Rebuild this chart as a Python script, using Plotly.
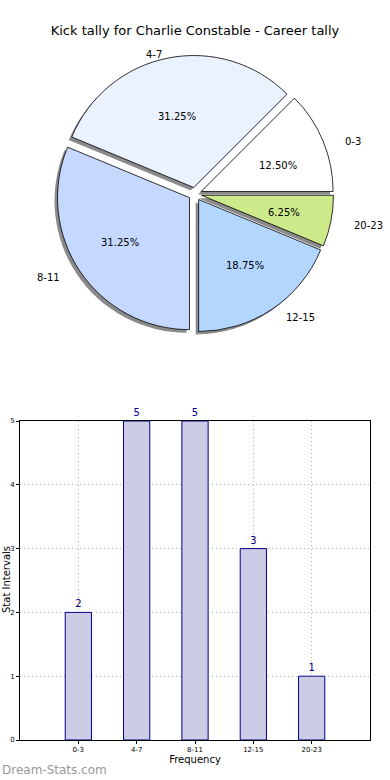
import math
import plotly.graph_objects as go

categories = ["0-3", "4-7", "8-11", "12-15", "20-23"]
counts = [2, 5, 5, 3, 1]
pie_colors = ["#FFFFFF", "#EAF1FF", "#C5D8FF", "#B3D6FF", "#CDEA8A"]
title_text = "Kick tally for Charlie Constable - Career tally"
y_ticks = [0, 1, 2, 3, 4, 5]
explode = 0.05

W, H = 390, 780
OFF = 0  # page body margin removed via post_script
ML, MR, MT, MB = 20, 20, 0, 40
PW, PH = W - ML - MR, H - MT - MB

def py(sy):
    return 1 - (sy - OFF - MT) / PH

def px_x(sx):
    return (sx - OFF - ML) / PW

# pie geometry (screen px); reference pie is slightly elliptical
pie_cx, pie_cy = 195, 197
RX, RY = 139, 126
R = 132
half = R * (1 + explode)
pie_draw_cy = pie_cy - 3
dom_y = [py(pie_draw_cy + half), py(pie_draw_cy - half)]
dom_x = [px_x(pie_cx - half - 4), px_x(pie_cx + half + 4)]
sdx, sdy = -3 / PW, -3 / PH

pull = [explode] * len(categories)
total = sum(counts)

fig = go.Figure()
# shadow
fig.add_trace(go.Pie(
    labels=categories, values=counts, sort=False, direction="counterclockwise",
    rotation=45, pull=pull, textinfo="none", hoverinfo="skip",
    marker=dict(colors=["#8a8a8a"] * 5, line=dict(width=0)),
    domain=dict(x=[dom_x[0] + sdx, dom_x[1] + sdx], y=[dom_y[0] + sdy, dom_y[1] + sdy]),
    showlegend=False,
))
# main pie
fig.add_trace(go.Pie(
    labels=categories, values=counts, sort=False, direction="counterclockwise",
    rotation=45, pull=pull, textinfo="none",
    marker=dict(colors=pie_colors, line=dict(color="black", width=0.8)),
    domain=dict(x=dom_x, y=dom_y), showlegend=False,
))

annotations = []
cum = 0
for lab, c in zip(categories, counts):
    mid = math.radians(360 * (cum + c / 2) / total)
    cum += c
    ca, sa = math.cos(mid), math.sin(mid)
    # label outside at 1.1 R from exploded centre
    lx = pie_cx + ca * (1.1 + explode) * RX
    ly = pie_cy - sa * (1.1 + explode) * RY
    annotations.append(dict(
        text=lab, xref="paper", yref="paper", x=px_x(lx), y=py(ly),
        xanchor="left" if ca > 0 else "right", yanchor="middle", showarrow=False,
        font=dict(family="DejaVu Sans", size=10, color="black"),
    ))
    # percentage at 0.6 R
    tx = pie_cx + ca * (0.6 + explode) * RX
    ty = pie_cy - sa * (0.6 + explode) * RY
    annotations.append(dict(
        text=f"{100 * c / total:.2f}%", xref="paper", yref="paper", x=px_x(tx), y=py(ty),
        xanchor="center", yanchor="middle", showarrow=False,
        font=dict(family="DejaVu Sans", size=10, color="black"),
    ))

fig.add_trace(go.Bar(
    x=categories, y=counts, width=0.45,
    marker=dict(color="#CCCCE6", line=dict(color="#00008B", width=1)),
    text=[str(c) for c in counts], textposition="outside",
    textfont=dict(family="DejaVu Sans", size=10, color="#00008B"),
    cliponaxis=False, showlegend=False,
))

annotations.append(dict(
    text="Stat Intervals", xref="paper", yref="paper", x=px_x(6), y=py(580),
    xanchor="center", yanchor="middle", textangle=-90, showarrow=False,
    font=dict(family="DejaVu Sans", size=10, color="black"),
))
annotations.append(dict(
    text="Dream-Stats.com", xref="paper", yref="paper", x=px_x(0), y=py(770),
    xanchor="left", yanchor="middle", showarrow=False,
    font=dict(family="DejaVu Sans", size=12, color="#999999"),
))

fig.update_layout(
    width=W, height=H,
    margin=dict(l=ML, r=MR, t=MT, b=MB, autoexpand=False),
    paper_bgcolor="white", plot_bgcolor="white",
    font=dict(family="DejaVu Sans", color="black"),
    title=dict(text=title_text, x=(195 - OFF) / W, xanchor="center", xref="container",
               y=1 - (30 - OFF) / H, yanchor="middle", yref="container",
               font=dict(size=13, color="black")),
    xaxis=dict(
        domain=[0, 1], range=[-1, 5], type="category", automargin=False,
        showline=True, linecolor="black", linewidth=1, mirror=True,
        showgrid=True, gridcolor="#b0b0b0", griddash="1px,3px", gridwidth=1,
        ticks="outside", ticklen=3, tickcolor="black", tickfont=dict(size=7),
        title=dict(text="Frequency", font=dict(size=10), standoff=2),
        zeroline=False,
    ),
    yaxis=dict(
        domain=[0, py(421)], range=[0, 5], tickvals=y_ticks, automargin=False,
        showline=True, linecolor="black", linewidth=1, mirror=True,
        showgrid=True, gridcolor="#b0b0b0", griddash="1px,3px", gridwidth=1,
        ticks="outside", ticklen=3, tickcolor="black", tickfont=dict(size=7),
        zeroline=False,
    ),
    annotations=annotations,
)

fig.write_html("out.html", config={"displayModeBar": False},
               post_script="document.body.style.margin='0';")
